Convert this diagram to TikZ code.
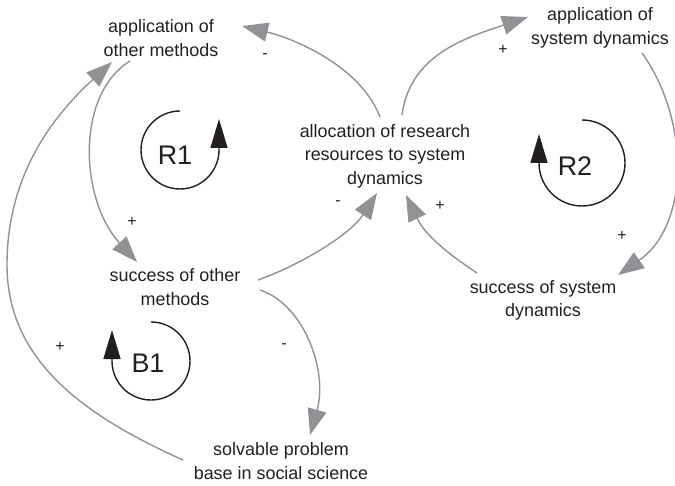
\documentclass[tikz,border=0pt]{standalone}
\usepackage{fontspec}
\setmainfont{Liberation Sans}
\usetikzlibrary{arrows.meta,calc}
\definecolor{lgray}{RGB}{145,145,150}
\definecolor{ink}{RGB}{35,31,32}
\begin{document}
\begin{tikzpicture}[x=1bp,y=-1bp,
  var/.style={align=center,inner sep=0pt,text=ink,font=\fontsize{18}{23.5}\selectfont},
  link/.style={draw=lgray,line width=1.4bp,-{Triangle[length=26bp,width=19bp]}},
  loopar/.style={draw=ink,line width=1.4bp,-{Triangle[length=29bp,width=17bp]}},
  looplabel/.style={font=\fontsize{27}{27}\selectfont,text=ink,inner sep=0pt},
  sign/.style={font=\fontsize{16}{16}\selectfont,text=ink,inner sep=0pt}]
\useasboundingbox (0,0) rectangle (675,486);

% variables
\node[var] (aom)   at (161,38)    {application of\\other methods};
\node[var] (asd)   at (600,28)    {application of\\system dynamics};
\node[var] (alloc) at (385,156)   {allocation of research\\resources to system\\dynamics};
\node[var] (soom)  at (175,287)   {success of other\\methods};
\node[var] (ssd)   at (543,300.5) {success of system\\dynamics};
\node[var] (spb)   at (281,461)   {solvable problem\\base in social science};

% causal links
\draw[link] ($(alloc)+(-5,-39)$) .. controls (360,65) and (292,38) .. ($(aom)+(81,-12)$);
\draw[link] ($(alloc)+(17,-41)$) .. controls (410,55) and (465,38) .. ($(asd)+(-72,-11)$);
\draw[link] ($(asd)+(42,25)$) .. controls (690,120) and (690,225) .. ($(ssd)+(75,-25.5)$);
\draw[link] ($(ssd)+(-66,-27.5)$) .. controls (447,253) and (425,235) .. ($(alloc)+(21,39)$);
\draw[link] ($(soom)+(83,-7)$) .. controls (300,265) and (350,235) .. ($(alloc)+(-8,37)$);
\draw[link] ($(aom)+(-31,23)$) .. controls (75,95) and (80,200) .. ($(soom)+(-38,-25)$);
\draw[link] ($(soom)+(85,3)$) .. controls (305,305) and (328,372) .. ($(spb)+(29,-26)$);
\coordinate (leftmost) at (7,265);
\draw[link] ($(spb)+(-98,-1)$) .. controls (92,419) and (7,365) .. (leftmost)
            .. controls (7,175) and (53,116) .. ($(aom)+(-49,24)$);

% polarity signs
\node[sign] (s1) at (265,56)  {-};
\node[sign] (s2) at (503,50)  {+};
\node[sign] (s3) at (622,236) {+};
\node[sign] (s4) at (440,206) {+};
\node[sign] (s5) at (338,203) {-};
\node[sign] (s6) at (132,222) {+};
\node[sign] (s7) at (284,346) {-};
\node[sign] (s8) at (60,347)  {+};

% loop markers
\node[looplabel] (r1) at (175,155) {R1};
\draw[loopar] (180,111) arc[start angle=270,end angle=0,radius=39] -- ++(0,-31);
\node[looplabel] (r2) at (575,166) {R2};
\draw[loopar] (582,120) arc[start angle=270,end angle=540,radius=43] -- ++(0,-29);
\node[looplabel] (b1) at (148,363) {B1};
\draw[loopar] (151,322) arc[start angle=270,end angle=540,radius=39] -- ++(0,-31);
\end{tikzpicture}
\end{document}
